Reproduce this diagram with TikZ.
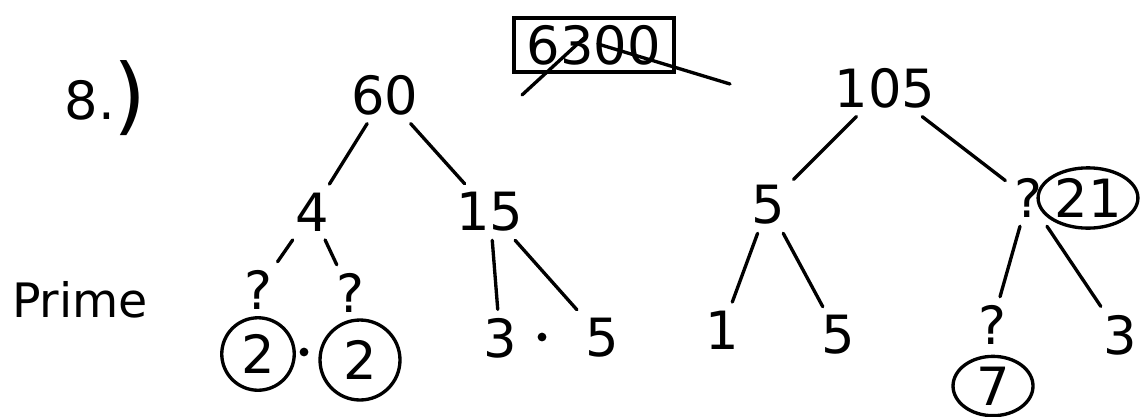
\documentclass[tikz,border=0pt]{standalone}
\usepackage{fontspec}
\setmainfont{DejaVu Sans}
\usetikzlibrary{shapes.geometric}
\begin{document}
\begin{tikzpicture}[x=0.02cm, y=-0.02cm, line width=1.9pt, line cap=round,
		num/.style={font=\fontsize{30}{30}\selectfont, inner sep=4pt},
		ring/.style={num, draw, circle, minimum size=1.5cm},
		oval/.style={num, draw, ellipse, inner sep=1pt},
		dot/.style={circle, fill, inner sep=0pt, minimum size=5pt}]
		\useasboundingbox (0,0) rectangle (1141,416);
		% Aufgabe 8
		\node[num, inner sep=0pt] (nr) at (90,100) {8.};
		\node[font=\fontsize{48}{48}\selectfont, inner sep=0pt] (paren) at (130,98) {)};
		\node[font=\fontsize{27}{27}\selectfont] (prime) at (80,300) {Prime};

		% durchgestrichenes Ergebnis oben
		\node[num, draw, rectangle, minimum width=3.2cm, minimum height=1.04cm] (box) at (594,45) {6300};
		\coordinate (x1) at (522,95);
		\coordinate (x2) at (584,38);
		\coordinate (x3) at (598,44);
		\coordinate (x4) at (730,84);
		\draw (x1) -- (x2);
		\draw (x3) -- (x4);

		% Baum 60
		\node[num] (n60) at (385,95) {60};
		\node[num] (n4) at (312,212) {4};
		\node[num] (n15) at (490,212) {15};
		\node[num] (qa) at (258,290) {?};
		\node[num] (qb) at (350,293) {?};
		\node[ring, minimum size=1.45cm] (r2a) at (258,354) {2};
		\node[dot] (da) at (304,352) {};
		\node[ring, minimum size=1.6cm] (r2b) at (360,360) {2};
		\node[num] (n3a) at (500,338) {3};
		\node[dot] (db) at (542,337) {};
		\node[num] (n5b) at (602,338) {5};

		% Baum 105
		\node[num] (n105) at (885,88) {105};
		\node[num] (n5a) at (768,205) {5};
		\node[num] (q21) at (1028,198) {?};
		\node[oval] (c21) at (1088,198) {21};
		\node[num] (n1) at (722,330) {1};
		\node[num] (n5c) at (838,335) {5};
		\node[num] (qc) at (992,325) {?};
		\node[num] (n3b) at (1120,335) {3};
		\node[oval, minimum width=1.6cm, minimum height=1.1cm] (r7) at (993,386) {7};

		% Aeste
		\foreach \a/\b in {n60/n4, n60/n15, n4/qa, n4/qb, n15/n3a, n15/n5b,
			n105/n5a, n105/q21, n5a/n1, n5a/n5c, q21/qc, q21/n3b}
			\draw (\a) -- (\b);
	\end{tikzpicture}
\end{document}
